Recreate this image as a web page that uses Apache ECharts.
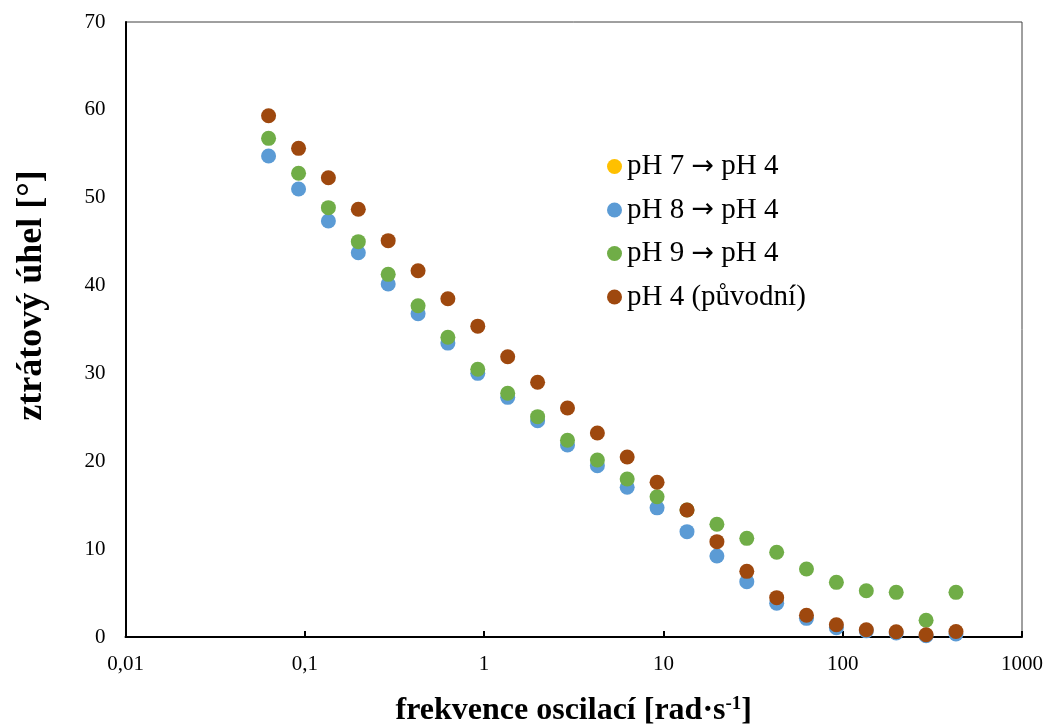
<!DOCTYPE html>
<html>
<head>
<meta charset="utf-8">
<script src="https://cdn.jsdelivr.net/npm/echarts@6/dist/echarts.min.js"></script>
<style>
html,body{margin:0;padding:0;background:#fff;}
#chart{width:1049px;height:725px;}
</style>
</head>
<body>
<div id="chart"></div>
<script>
// angular frequency [rad/s]
const frequencies = [0.0628, 0.0923, 0.1354, 0.1988, 0.2918, 0.4283, 0.628, 0.922, 1.354, 1.988, 2.918, 4.283, 6.28, 9.22, 13.54, 19.88, 29.18, 42.83, 62.8, 92.2, 135.4, 198.8, 291.8, 428.3];
const seriesNames = ['pH 7 \u2192 pH 4', 'pH 8 \u2192 pH 4', 'pH 9 \u2192 pH 4', 'pH 4 (p\u016fvodn\u00ed)'];
const pH7 = [];
const pH8 = [54.75, 50.99, 47.35, 43.74, 40.18, 36.8, 33.45, 30.01, 27.28, 24.62, 21.85, 19.5, 17.04, 14.7, 11.99, 9.22, 6.3, 3.85, 2.12, 1.06, 0.7, 0.45, 0.15, 0.34];
const pH9 = [56.76, 52.78, 48.87, 45.0, 41.28, 37.71, 34.11, 30.47, 27.74, 25.08, 22.39, 20.15, 17.98, 15.97, 14.45, 12.83, 11.23, 9.64, 7.74, 6.22, 5.27, 5.08, 1.9, 5.08];
const pH4 = [59.33, 55.62, 52.28, 48.68, 45.11, 41.69, 38.5, 35.38, 31.9, 28.99, 26.06, 23.22, 20.49, 17.62, 14.45, 10.85, 7.47, 4.48, 2.48, 1.4, 0.82, 0.6, 0.25, 0.62];
const colors = ['#FFC000', '#5B9BD5', '#70AD47', '#9E480E'];

const FONT = "'Liberation Serif', 'Times New Roman', serif";
function pairs(vals) { return vals.map((v, i) => [frequencies[i], v]); }

const chart = echarts.init(document.getElementById('chart'), null, {renderer: 'canvas'});
const allData = [pH7, pH8, pH9, pH4];
chart.setOption({
  animation: false,
  backgroundColor: '#ffffff',
  grid: {left: 125.5, right: 27, top: 22, bottom: 88, show: true, borderColor: '#404040', borderWidth: 1,
    containLabel: false, outerBoundsMode: 'none'},
  legend: {
    orient: 'vertical', left: 602, top: 146,
    icon: 'circle', itemWidth: 15, itemHeight: 15, itemGap: 12.5,
    formatter: name => name.replace('\u2192', '{arr|\u2192}'),
    textStyle: {fontFamily: FONT, fontSize: 29, color: '#000', lineHeight: 31,
      rich: {arr: {fontFamily: "'DejaVu Sans', sans-serif", fontSize: 27, color: '#000', lineHeight: 31}}},
    data: seriesNames
  },
  xAxis: {
    type: 'log', logBase: 10, min: 0.01, max: 1000,
    name: 'frekvence oscilac\u00ed [rad\u00b7s{sup|-1}]',
    nameLocation: 'middle', nameGap: 58,
    nameTextStyle: {fontFamily: FONT, fontSize: 32, fontWeight: 'bold', color: '#000',
      rich: {sup: {fontFamily: FONT, fontSize: 19, fontWeight: 'bold', color: '#000', verticalAlign: 'top', padding: [0, 0, 13, 0]}}},
    axisLine: {show: true, lineStyle: {color: '#000', width: 2}},
    axisTick: {show: true, inside: true, length: 6, lineStyle: {color: '#000', width: 2}},
    minorTick: {show: false},
    splitLine: {show: false},
    axisLabel: {fontFamily: FONT, fontSize: 21, color: '#000', margin: 17,
      formatter: v => String(v).replace('.', ',')}
  },
  yAxis: {
    type: 'value', min: 0, max: 70, interval: 10,
    name: 'ztr\u00e1tov\u00fd \u00fahel [\u00b0]',
    nameLocation: 'middle', nameGap: 76, nameRotate: 90,
    nameTextStyle: {fontFamily: FONT, fontSize: 36, fontWeight: 'bold', color: '#000', padding: [0, 0, 0, 68]},
    axisLine: {show: true, lineStyle: {color: '#000', width: 2}},
    axisTick: {show: false},
    splitLine: {show: false},
    axisLabel: {fontFamily: FONT, fontSize: 21, color: '#000', margin: 20}
  },
  series: allData.map((d, i) => ({
    name: seriesNames[i],
    type: 'scatter',
    symbol: 'circle',
    symbolSize: 15,
    itemStyle: {color: colors[i], opacity: 1},
    data: pairs(d),
    z: 2 + i
  }))
});
</script>
</body>
</html>
